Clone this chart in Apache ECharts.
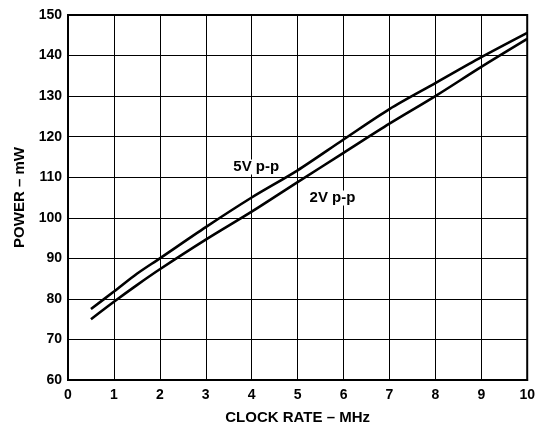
<!DOCTYPE html>
<html>
<head>
<meta charset="utf-8">
<script src="https://cdn.jsdelivr.net/npm/echarts@6/dist/echarts.min.js"></script>
<style>
  html, body { margin: 0; padding: 0; background: #fff; }
  #chart { width: 538px; height: 430px; }
</style>
</head>
<body>
<div id="chart"></div>
<script>
// clock rate (MHz) and power (mW)
const clockMHz = [0.5, 1, 1.5, 2, 3, 4, 5, 6, 7, 8, 9, 10]
const power5V = [77.5, 81.8, 86.2, 90.0, 97.7, 105.0, 111.7, 119.3, 126.8, 133.2, 139.6, 145.6]
const power2V = [75.0, 79.3, 83.4, 87.3, 94.6, 101.5, 108.8, 116.0, 123.2, 130.0, 137.2, 144.1]

// curve labels placed in data coords
const labelNames = ['5V p-p', '2V p-p']
const labelX = [4.1, 5.76]
const labelY = [112.5, 104.9]

const font = "'Liberation Sans', Arial, sans-serif"

const pairs = (xs, ys) => xs.map((x, i) => [x, ys[i]])

const chart = echarts.init(document.getElementById('chart'))

const lineSeries = (name, values, idx) => ({
  name,
  type: 'line',
  data: pairs(clockMHz, values),
  smooth: 0.3,
  symbol: 'none',
  lineStyle: { color: '#000', width: 2.6 },
  silent: true,
  markPoint: {
    symbol: 'rect',
    symbolSize: [0, 0],
    data: [{ coord: [labelX[idx], labelY[idx]] }],
    label: {
      show: true,
      formatter: labelNames[idx],
      color: '#000',
      fontFamily: font,
      fontWeight: 'bold',
      fontSize: 15,
      backgroundColor: '#fff',
      padding: [0, 1]
    }
  }
})

chart.setOption({
  animation: false,
  grid: {
    left: 68,
    right: 10,
    top: 15,
    bottom: 47,
    show: true,
    borderColor: '#000',
    borderWidth: 2
  },
  xAxis: {
    type: 'value',
    min: 0,
    max: 10,
    interval: 1,
    name: 'CLOCK RATE – MHz',
    nameLocation: 'middle',
    nameGap: 30,
    nameTextStyle: { color: '#000', fontFamily: font, fontWeight: 'bold', fontSize: 15 },
    axisLine: { show: true, lineStyle: { color: '#000', width: 2 } },
    axisTick: { show: false },
    axisLabel: { color: '#000', fontFamily: font, fontWeight: 'bold', fontSize: 14, margin: 8 },
    splitLine: { show: true, lineStyle: { color: '#000', width: 1 } }
  },
  yAxis: {
    type: 'value',
    min: 60,
    max: 150,
    interval: 10,
    name: 'POWER – mW',
    nameLocation: 'middle',
    nameGap: 41,
    nameTextStyle: { color: '#000', fontFamily: font, fontWeight: 'bold', fontSize: 15 },
    axisLine: { show: true, lineStyle: { color: '#000', width: 2 } },
    axisTick: { show: false },
    axisLabel: { color: '#000', fontFamily: font, fontWeight: 'bold', fontSize: 14, margin: 6 },
    splitLine: { show: true, lineStyle: { color: '#000', width: 1 } }
  },
  series: [
    lineSeries('5V p-p', power5V, 0),
    lineSeries('2V p-p', power2V, 1)
  ]
})
</script>
</body>
</html>
